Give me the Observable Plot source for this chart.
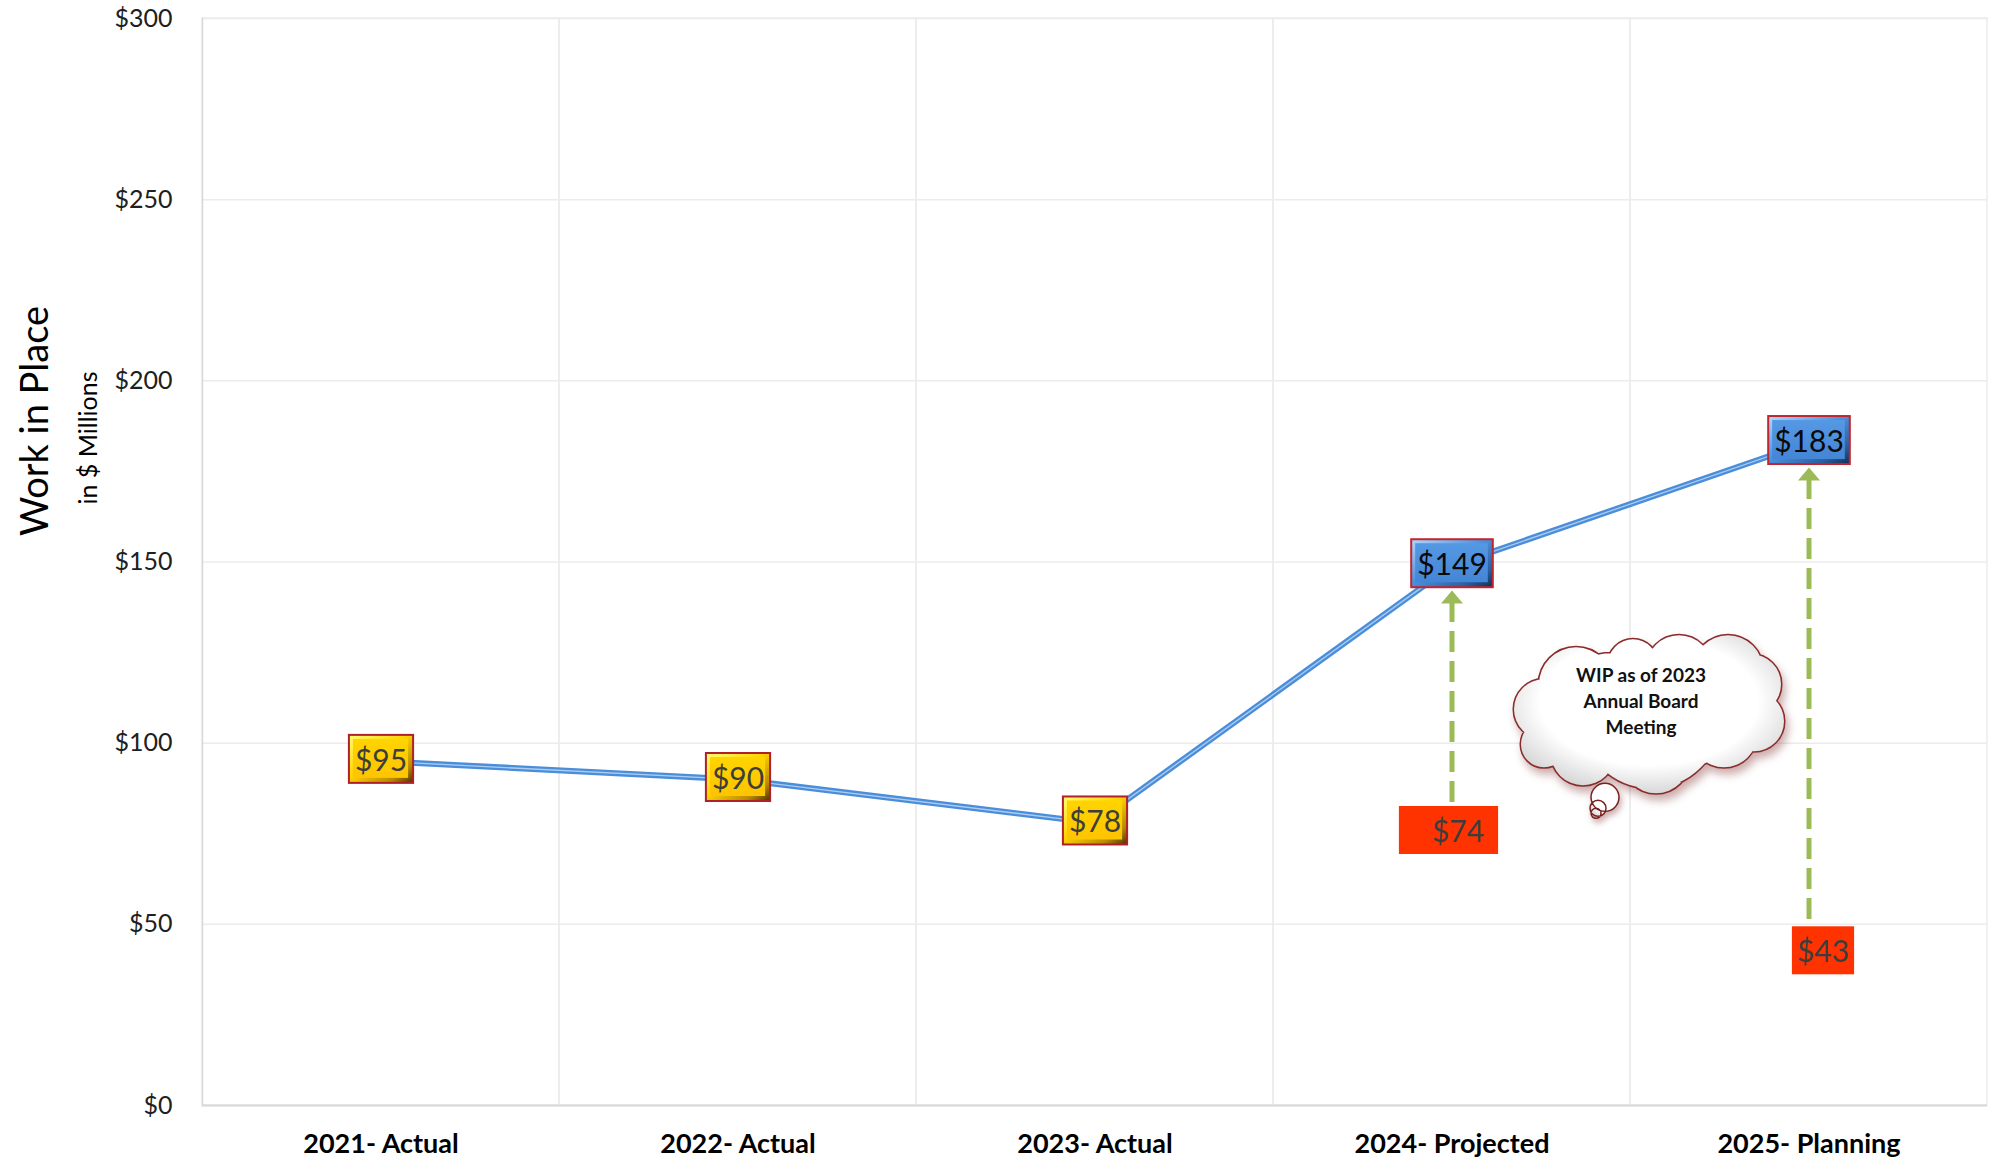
<!DOCTYPE html>
<html><head><meta charset="utf-8">
<script src="https://cdn.jsdelivr.net/npm/d3@7"></script>
<script src="https://cdn.jsdelivr.net/npm/@observablehq/plot@0.6"></script>
<style>
html,body{margin:0;padding:0;background:#fff;}
#chart svg{display:block}
</style></head><body><div id="chart"></div>
<script>
// ---- data ----
const categories = ["2021- Actual", "2022- Actual", "2023- Actual", "2024- Projected", "2025- Planning"];
const wip = [95, 90, 78, 149, 183];
const status = ["actual", "actual", "actual", "plan", "plan"];
const boardCategories = ["2024- Projected", "2025- Planning"];
const boardWip = [74, 43];
const yTicks = [0, 50, 100, 150, 200, 250, 300];
const yTickLabels = ["$0", "$50", "$100", "$150", "$200", "$250", "$300"];
const cloudNote = "WIP as of 2023\nAnnual Board\nMeeting";
const yTitle = "Work in Place";
const ySubtitle = "in $ Millions";

const series = categories.map((c, i) => ({cat: c, value: wip[i], status: status[i], label: "$" + wip[i]}));
const board = boardCategories.map((c, i) => ({cat: c, value: boardWip[i], target: wip[categories.indexOf(c)], label: "$" + boardWip[i]}));

const FONT = "Lato, 'Open Sans', sans-serif";

// annotation shapes (relative geometry of the thought-cloud)
const puffs = [
  [-65,-19,37],[-8,-39,25],[38,-35,33],[87,-33,35],[110,-19,30],[113,18,30],
  [83,31,33],[15,56,34],[-58,50,32],[-97,41,23],[-97,6,30],
  [-30,10,60],[40,5,60],[10,15,70]
];
const tail = [[-36,94,14],[-43,105,8],[-45,110,5]];
const circlesSymbol = list => ({draw(ctx) { for (const [x, y, r] of list) { ctx.moveTo(x + r, y); ctx.arc(x, y, r, 0, 2 * Math.PI); } }});
const cloudSymbol = circlesSymbol(puffs);
const tailSymbol = circlesSymbol(tail);
const arrowHead = {draw(ctx) { ctx.moveTo(0, 0); ctx.lineTo(11, 13); ctx.lineTo(-11, 13); ctx.closePath(); }};
const shadow = (f) => (index, scales, values, dims, context, next) => {
  const g = next(index, scales, values, dims, context);
  g.style.filter = f;
  return g;
};
const tag = (name) => (index, scales, values, dims, context, next) => {
  const g = next(index, scales, values, dims, context);
  g.setAttribute("data-box", name);
  return g;
};
const cloudX = () => categories[3];
const cloudY = () => 111;

const plot = Plot.plot({
  width: 1990,
  height: 1159,
  marginLeft: 202,
  marginRight: 3,
  marginTop: 18,
  marginBottom: 54,
  style: {fontFamily: FONT, background: "#fff", overflow: "visible"},
  x: {type: "band", domain: categories, padding: 0, label: null},
  y: {domain: [0, 300], label: null},
  marks: [
    Plot.barY(categories, {x: d => d, y1: 0, y2: yTicks[yTicks.length - 1], fill: "none", stroke: "#ececec", strokeWidth: 1.5}),
    Plot.gridY(yTicks, {stroke: "#ececec", strokeOpacity: 1, strokeWidth: 1.5}),
    Plot.frame({anchor: "left", stroke: "#d9d9d9", strokeWidth: 1.5}),
    Plot.ruleY([0], {stroke: "#d9d9d9", strokeWidth: 2}),
    Plot.axisY({ticks: yTicks, tickSize: 0, tickPadding: 30, tickFormat: d => yTickLabels[yTicks.indexOf(d)], fontSize: 25, color: "#202020", label: null}),
    Plot.axisX({tickSize: 0, tickPadding: 28, fontSize: 27, fontWeight: "bold", color: "#000", label: null}),
    Plot.text([yTitle], {frameAnchor: "left", textAnchor: "middle", text: d => d, rotate: -90, dx: -167, dy: -141, fontSize: 38, fill: "#000"}),
    Plot.text([ySubtitle], {frameAnchor: "left", textAnchor: "middle", text: d => d, rotate: -90, dx: -114, dy: -124, fontSize: 25, fill: "#000"}),
    // line
    Plot.line(series, {x: "cat", y: "value", stroke: "#4a8edb", strokeWidth: 6}),
    Plot.line(series, {x: "cat", y: "value", stroke: "#ffffff", strokeWidth: 1.3, strokeOpacity: 0.55}),
    // board arrows (shaft from the 2023 board figure up to the current figure)
    Plot.ruleX(board, {x: "cat", y1: "target", y2: "value", stroke: "#9bbb59", strokeWidth: 5, strokeDasharray: "21,9", insetTop: 36, insetBottom: 10}),
    Plot.dot(board, {x: "cat", y: "target", symbol: arrowHead, fill: "#9bbb59", stroke: "none", dy: 25}),
    // cloud annotation
    Plot.dot([cloudNote], {x: cloudX, y: cloudY, dx: 189, symbol: cloudSymbol, fill: "url(#cloudGrad)", stroke: "#8b2b2b", strokeWidth: 3,
      render: shadow("drop-shadow(3px 6px 4px rgba(110,20,20,0.35))")}),
    Plot.dot([cloudNote], {x: cloudX, y: cloudY, dx: 189, symbol: cloudSymbol, fill: "url(#cloudGrad)", stroke: "none"}),
    Plot.dot([cloudNote], {x: cloudX, y: cloudY, dx: 189, symbol: tailSymbol, fill: "url(#cloudGrad)", stroke: "#7a2020", strokeWidth: 1.5,
      render: shadow("drop-shadow(2px 4px 3px rgba(110,20,20,0.35))")}),
    Plot.text([cloudNote], {x: cloudX, y: cloudY, dx: 189, dy: -4, text: d => d, fontSize: 19, fontWeight: "bold", lineHeight: 1.37, fill: "#111"}),
    // value labels
    Plot.text(series.filter(d => d.status === "actual"), {x: "cat", y: "value", text: "label", fontSize: 30, fill: "#3d3d3d", render: tag("gold")}),
    Plot.text(series.filter(d => d.status === "plan"), {x: "cat", y: "value", text: "label", fontSize: 30, fill: "#0a0a0a", render: tag("blue")}),
    Plot.text(board.slice(0, 1), {x: "cat", y: "value", text: "label", fontSize: 30, fill: "#3d3d3d", dx: 6, dy: -5, render: tag("red-a")}),
    Plot.text(board.slice(1), {x: "cat", y: "value", text: "label", fontSize: 30, fill: "#3d3d3d", dx: 14, dy: 3, render: tag("red-b")})
  ]
});

document.getElementById("chart").append(plot);
const svg = plot.tagName.toLowerCase() === "svg" ? plot : plot.querySelector("svg");
const NS = "http://www.w3.org/2000/svg";
const defs = document.createElementNS(NS, "defs");
defs.innerHTML = `
<radialGradient id="cloudGrad" cx="50%" cy="42%" r="62%">
  <stop offset="0" stop-color="#ffffff"/><stop offset="0.65" stop-color="#ffffff"/><stop offset="1" stop-color="#cfcfcf"/>
</radialGradient>
<linearGradient id="goldEdge" x1="0" y1="0" x2="1" y2="1">
  <stop offset="0" stop-color="#ffff73"/><stop offset="0.45" stop-color="#ffd500"/><stop offset="0.8" stop-color="#b88a00"/><stop offset="1" stop-color="#4a3000"/>
</linearGradient>
<linearGradient id="goldFace" x1="0" y1="0" x2="0" y2="1">
  <stop offset="0" stop-color="#ffd400"/><stop offset="1" stop-color="#ffc400"/>
</linearGradient>
<linearGradient id="blueEdge" x1="0" y1="0" x2="1" y2="1">
  <stop offset="0" stop-color="#b5d8fb"/><stop offset="0.45" stop-color="#4d93e2"/><stop offset="0.8" stop-color="#2c5f9f"/><stop offset="1" stop-color="#122c50"/>
</linearGradient>
<linearGradient id="blueFace" x1="0" y1="0" x2="0" y2="1">
  <stop offset="0" stop-color="#5599e4"/><stop offset="1" stop-color="#4485d6"/>
</linearGradient>`;
svg.insertBefore(defs, svg.firstChild);

function addBoxes(name, style) {
  svg.querySelectorAll(`g[data-box="${name}"] text`).forEach((t, i) => {
    const b = t.getBBox();
    const padL = style.padL, padR = style.padR;
    const cy = b.y + b.height / 2;
    const x0 = b.x - padL, w = b.width + padL + padR, h = 48, y0 = cy - h / 2;
    const tr = t.getAttribute("transform");
    const mk = (x, y, width, height, attrs) => {
      const r = document.createElementNS(NS, "rect");
      r.setAttribute("x", x); r.setAttribute("y", y); r.setAttribute("width", width); r.setAttribute("height", height);
      if (tr) r.setAttribute("transform", tr);
      for (const k in attrs) r.setAttribute(k, attrs[k]);
      t.parentNode.insertBefore(r, t);
    };
    if (style.bevel) {
      mk(x0, y0, w, h, {fill: style.edge, stroke: style.stroke, "stroke-width": 2});
      mk(x0 + 4, y0 + 4, w - 9, h - 9, {fill: style.face});
    } else {
      mk(x0, y0, w, h, {fill: style.face});
    }
  });
}
addBoxes("gold", {bevel: true, edge: "url(#goldEdge)", face: "url(#goldFace)", stroke: "#b0202a", padL: 6, padR: 6});
addBoxes("blue", {bevel: true, edge: "url(#blueEdge)", face: "url(#blueFace)", stroke: "#c0262d", padL: 6, padR: 6});
addBoxes("red-a", {bevel: false, face: "#ff3300", padL: 33, padR: 14});
addBoxes("red-b", {bevel: false, face: "#ff3300", padL: 5, padR: 5});
</script>
</body></html>
